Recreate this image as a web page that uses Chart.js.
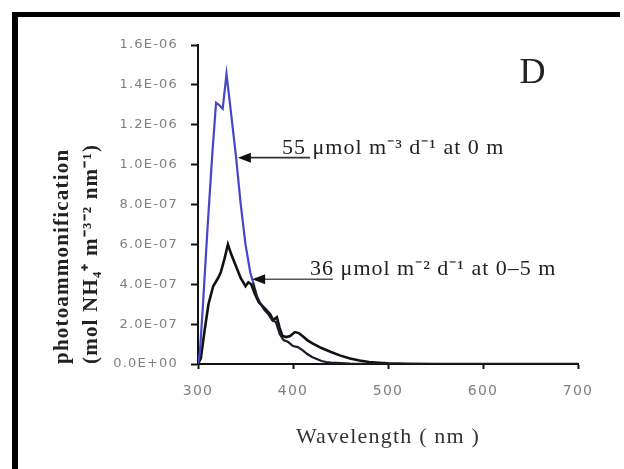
<!DOCTYPE html>
<html><head><meta charset="utf-8">
<script src="https://cdn.jsdelivr.net/npm/chart.js@4/dist/chart.umd.min.js"></script>
<style>
html,body{margin:0;padding:0;background:#fff;}
#wrap{position:relative;width:624px;height:469px;overflow:hidden;background:#fff;}
#frame{position:absolute;left:12px;top:12px;width:608px;height:457px;border-top:5px solid #000;border-left:6px solid #000;box-sizing:border-box;pointer-events:none;}
canvas{position:absolute;left:0;top:0;}
</style></head><body>
<div id="wrap"><canvas id="c" width="624" height="469"></canvas><div id="frame"></div></div>
<script>
// ---- data ----
const wavelength55 = [300,302,305,310,315,319,322,326,330,335,340,345,350,355,358,362,366,370,374,378,382,386,390,395,400,405,410,415,420,425,430,435,440,450,460,480,500,550,600,650,700];
const photo55 = [0,0.06e-6,0.28e-6,0.68e-6,1.05e-6,1.31e-6,1.30e-6,1.28e-6,1.455e-6,1.25e-6,1.04e-6,0.80e-6,0.60e-6,0.46e-6,0.41e-6,0.34e-6,0.30e-6,0.27e-6,0.25e-6,0.22e-6,0.21e-6,0.15e-6,0.12e-6,0.11e-6,0.09e-6,0.085e-6,0.07e-6,0.05e-6,0.035e-6,0.025e-6,0.015e-6,0.01e-6,0.007e-6,0.004e-6,0.002e-6,0.001e-6,0,0,0,0,0];
const wavelength36 = [300,303,307,311,316,321,324,328,331.5,335,340,345,350,353,356,360,364,368,372,376,379,383,386,389,393,397,402,406,410,415,420,430,440,450,460,470,480,490,500,520,550,600,650,700];
const photo36 = [0,0.03e-6,0.17e-6,0.30e-6,0.39e-6,0.43e-6,0.46e-6,0.53e-6,0.60e-6,0.55e-6,0.49e-6,0.43e-6,0.39e-6,0.41e-6,0.40e-6,0.35e-6,0.31e-6,0.29e-6,0.27e-6,0.25e-6,0.22e-6,0.235e-6,0.18e-6,0.14e-6,0.135e-6,0.14e-6,0.16e-6,0.155e-6,0.14e-6,0.12e-6,0.105e-6,0.08e-6,0.06e-6,0.042e-6,0.028e-6,0.018e-6,0.01e-6,0.006e-6,0.003e-6,0.001e-6,0,0,0,0];
const xTicks = [300,400,500,600,700];
const yTicks = [0,0.2e-6,0.4e-6,0.6e-6,0.8e-6,1.0e-6,1.2e-6,1.4e-6,1.6e-6];
const label55 = '55 \u03bcmol m\u207b\u00b3 d\u207b\u00b9 at 0 m';
const label36 = '36 \u03bcmol m\u207b\u00b2 d\u207b\u00b9 at 0\u20135 m';
const panelLetter = 'D';
const xTitle = 'Wavelength ( nm )';
const yTitle = ['photoammonification', '(mol NH\u2084\u207a m\u207b\u00b3\u207b\u00b2 nm\u207b\u00b9)'];

// annotation anchors in data units
const notes = [
  {text: label55, tipX: 342, tailX: 418, y: 1.035e-6, textX: 388.5, color: '#333'},
  {text: label36, tipX: 357, tailX: 442, y: 0.425e-6, textX: 418, color: '#555'}
];

function sci(v){
  if (Math.abs(v) < 1e-12) return '0.0E+00';
  const parts = v.toExponential(1).split('e');
  const e = parseInt(parts[1], 10);
  return parts[0] + 'E' + (e < 0 ? '-' : '+') + String(Math.abs(e)).padStart(2, '0');
}
const pts = (xs, ys) => xs.map((x, i) => ({x, y: ys[i]}));
const BLUE = '#4646c6';

const spacingPlugin = {
  id: 'spacing',
  beforeDraw(chart){ chart.ctx.letterSpacing = '1.2px'; }
};

const notesPlugin = {
  id: 'notes',
  afterDatasetsDraw(chart){
    const {ctx, scales: {x, y}} = chart;
    ctx.save();
    for (const n of notes){
      const tx = x.getPixelForValue(n.tipX), ex = x.getPixelForValue(n.tailX), py = y.getPixelForValue(n.y);
      ctx.strokeStyle = n.color; ctx.lineWidth = 1.6;
      ctx.beginPath(); ctx.moveTo(tx + 8, py); ctx.lineTo(ex, py); ctx.stroke();
      ctx.fillStyle = '#111';
      ctx.beginPath(); ctx.moveTo(tx, py); ctx.lineTo(tx + 13, py - 5); ctx.lineTo(tx + 13, py + 5); ctx.closePath(); ctx.fill();
      ctx.letterSpacing = '1px';
      ctx.font = '22px "Liberation Serif", serif';
      ctx.fillStyle = '#222'; ctx.textAlign = 'left'; ctx.textBaseline = 'alphabetic';
      ctx.fillText(n.text, x.getPixelForValue(n.textX), py - 4);
    }
    ctx.letterSpacing = '0px';
    ctx.font = '36px "Liberation Serif", serif';
    ctx.fillStyle = '#222'; ctx.textAlign = 'center'; ctx.textBaseline = 'middle';
    ctx.fillText(panelLetter, x.getPixelForValue(652), y.getPixelForValue(1.455e-6));
    ctx.restore();
  }
};

new Chart(document.getElementById('c'), {
  type: 'line',
  data: {
    datasets: [
      {label: label55, data: pts(wavelength55, photo55), borderColor: BLUE, borderWidth: 2.2, pointRadius: 0, tension: 0,
       segment: {borderColor: c => c.p0.parsed.x >= 357 ? '#1c1c2a' : BLUE}},
      {label: label36, data: pts(wavelength36, photo36), borderColor: '#111', borderWidth: 2.6, pointRadius: 0, tension: 0}
    ]
  },
  options: {
    responsive: false, animation: false, devicePixelRatio: 1,
    layout: {padding: {top: 45, right: 46, left: 0, bottom: 0}},
    plugins: {legend: {display: false}, tooltip: {enabled: false}},
    scales: {
      x: {
        type: 'linear', min: 300, max: 700,
        afterFit: s => { s.height = 105; },
        afterBuildTicks: s => { s.ticks = xTicks.map(v => ({value: v})); },
        ticks: {color: '#808080', font: {family: '"DejaVu Sans", sans-serif', size: 14}, padding: 14, maxRotation: 0, callback: v => String(v)},
        grid: {display: true, drawOnChartArea: false, drawTicks: true, tickLength: 5, tickColor: '#111', tickWidth: 2},
        border: {display: true, color: '#111', width: 2},
        title: {display: true, text: xTitle, color: '#333', font: {family: '"Liberation Serif", serif', size: 22, lineHeight: 1.2}, padding: {top: 0, bottom: 19}}
      },
      y: {
        type: 'linear', min: 0, max: 1.6e-6,
        afterFit: s => { s.width = 198; },
        afterBuildTicks: s => { s.ticks = yTicks.map(v => ({value: v})); },
        ticks: {color: '#808080', font: {family: '"DejaVu Sans", sans-serif', size: 13}, padding: 13, callback: v => sci(v)},
        grid: {display: true, drawOnChartArea: false, drawTicks: true, tickLength: 7, tickColor: '#111', tickWidth: 2},
        border: {display: true, color: '#111', width: 2},
        title: {display: true, text: yTitle, align: 'start', color: '#222', font: {family: '"Liberation Serif", serif', size: 21, weight: 'bold', lineHeight: 1.38}, padding: {top: 48, bottom: 0}}
      }
    }
  },
  plugins: [spacingPlugin, notesPlugin]
});
</script>
</body></html>
